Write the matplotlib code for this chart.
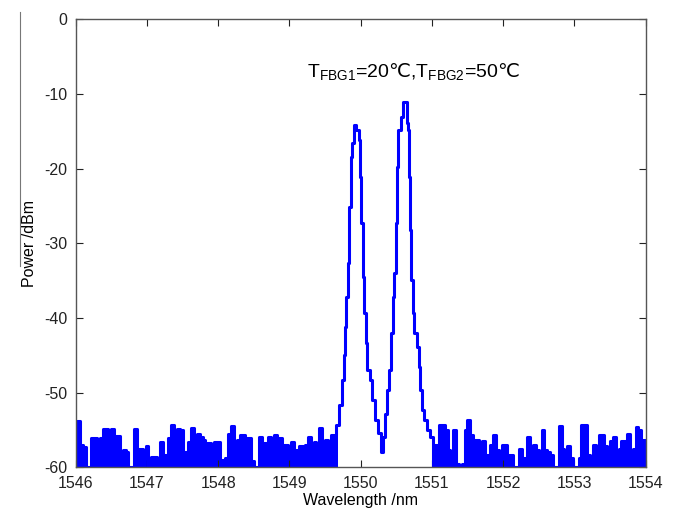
import numpy as np
import matplotlib
matplotlib.use("Agg")
import matplotlib.pyplot as plt
from matplotlib.lines import Line2D

plt.rcParams['font.family'] = ['Liberation Sans', 'DejaVu Sans']
plt.rcParams['mathtext.fontset'] = 'custom'
plt.rcParams['mathtext.rm'] = 'Liberation Sans'
plt.rcParams['mathtext.sf'] = 'DejaVu Sans'
plt.rcParams['axes.unicode_minus'] = False

# noise floor left of the peaks, 1546.00 .. 1549.68 nm, step 0.04 nm
noise_left_start = 1546.00
noise_left = [
    -57.0, -53.8, -57.0, -57.3, -60.0, -60.0, -56.1, -56.1, -60.0, -56.1,
    -54.9, -54.9, -56.0, -54.9, -55.8, -55.8, -58.3, -57.7, -58.0, -60.0,
    -60.0, -54.9, -57.5, -57.5, -58.3, -57.2, -60.0, -58.6, -58.6, -59.5,
    -56.6, -58.3, -58.3, -56.1, -54.3, -57.7, -54.9, -55.0, -58.5, -58.0,
    -56.6, -54.8, -56.6, -55.5, -56.0, -56.3, -56.8, -56.8, -59.2, -56.6,
    -56.6, -59.0, -59.0, -58.7, -55.5, -54.5, -56.6, -56.3, -55.7, -55.7,
    -56.1, -56.1, -59.2, -60.0, -60.0, -55.9, -56.7, -56.7, -55.9, -57.0,
    -55.7, -57.9, -56.1, -57.0, -57.0, -58.3, -56.6, -57.7, -57.9, -57.2,
    -57.2, -57.0, -55.9, -58.1, -56.6, -57.2, -54.8, -57.2, -56.3, -57.9,
    -55.7, -55.7, -54.3,
]

# the two FBG reflection peaks
peak_wl = [
    1549.72, 1549.75, 1549.77, 1549.78, 1549.81, 1549.83, 1549.85, 1549.87,
    1549.90, 1549.92, 1549.96, 1549.99, 1550.00, 1550.02, 1550.04, 1550.06,
    1550.08, 1550.11, 1550.15, 1550.17, 1550.22, 1550.26, 1550.31, 1550.33,
    1550.36, 1550.38, 1550.41, 1550.44, 1550.46, 1550.48, 1550.50, 1550.52,
    1550.54, 1550.58, 1550.61, 1550.64, 1550.65, 1550.675, 1550.685, 1550.70,
    1550.72, 1550.74, 1550.77, 1550.80, 1550.83, 1550.85, 1550.87, 1550.91,
    1550.96, 1551.00, 1551.02,
]
peak_db = [
    -51.7, -48.3, -45.0, -41.2, -37.2, -32.6, -25.1, -18.4,
    -16.6, -14.2, -14.8, -16.2, -21.1, -27.3, -34.5, -39.3,
    -43.3, -47.0, -48.3, -51.0, -53.7, -55.4, -58.0, -56.0,
    -52.8, -49.6, -47.0, -42.0, -37.2, -34.0, -27.3, -19.8,
    -14.8, -13.1, -11.1, -11.1, -13.9, -14.8, -21.1, -28.2,
    -34.9, -39.3, -42.0, -43.9, -46.6, -49.6, -52.3, -53.7,
    -55.0, -55.9, -59.8,
]

# noise floor right of the peaks, 1551.04 .. 1554.00 nm, step 0.04 nm
noise_right_start = 1551.04
noise_right = [
    -57.0, -57.0, -54.3, -54.3, -55.0, -57.7, -60.0, -55.0, -59.5, -60.0,
    -59.5, -55.0, -53.7, -55.7, -56.3, -56.3, -57.7, -56.5, -58.3, -58.3,
    -57.0, -55.7, -57.7, -58.8, -57.0, -57.0, -58.3, -58.3, -60.0, -60.0,
    -57.5, -58.8, -58.8, -55.9, -58.3, -57.0, -57.7, -58.4, -55.0, -57.7,
    -57.9, -58.3, -60.0, -60.0, -54.5, -57.5, -58.3, -57.2, -58.8, -60.0,
    -60.0, -58.8, -54.3, -54.3, -58.3, -60.0, -57.0, -58.0, -55.7, -55.7,
    -57.2, -58.3, -56.5, -55.9, -58.0, -57.5, -56.5, -56.5, -55.6, -58.0,
    -57.5, -54.6, -55.0, -56.3, -56.3,
]

step = 0.04
wl_left = noise_left_start + step * np.arange(len(noise_left))
wl_right = noise_right_start + step * np.arange(len(noise_right))

wl = np.concatenate([wl_left, peak_wl, wl_right])
db = np.concatenate([noise_left, peak_db, noise_right])

blue = '#0000ff'

fig = plt.figure(figsize=(6.76, 5.11), dpi=100)
ax = fig.add_axes([0.112, 0.0855, 0.843, 0.8767])

ax.fill_between(wl_left, -60, noise_left, step='mid', color=blue, lw=0)
ax.fill_between(wl_right, -60, noise_right, step='mid', color=blue, lw=0)
ax.plot(wl, db, color=blue, lw=2.2, drawstyle='steps-mid')

ax.set_xlim(1546, 1554)
ax.set_ylim(-60, 0)
ax.set_xticks(np.arange(1546, 1555, 1))
ax.set_yticks(np.arange(-60, 1, 10))

ax.tick_params(direction='in', top=True, right=True, length=5, width=0.8,
               labelsize=11.5, colors='#222222', pad=6)
for s in ax.spines.values():
    s.set_color('#555555')
    s.set_linewidth(1.0)

ax.set_xlabel('Wavelength /nm', fontsize=11.5, labelpad=2)
ax.set_ylabel('Power /dBm', fontsize=11.5, labelpad=5)

label = (r'T$_{\mathregular{FBG1}}$=20$\mathsf{℃}$'
         r',T$_{\mathregular{FBG2}}$=50$\mathsf{℃}$')
ax.text(1549.25, -7.1, label, fontsize=14, va='center', ha='left')

# stray vertical rule at the far left of the scanned figure
fig.add_artist(Line2D([20 / 676, 20 / 676], [1 - 12 / 511, 1 - 266 / 511],
                      color='#777777', lw=0.8))

fig.savefig('out.png', dpi=100)
